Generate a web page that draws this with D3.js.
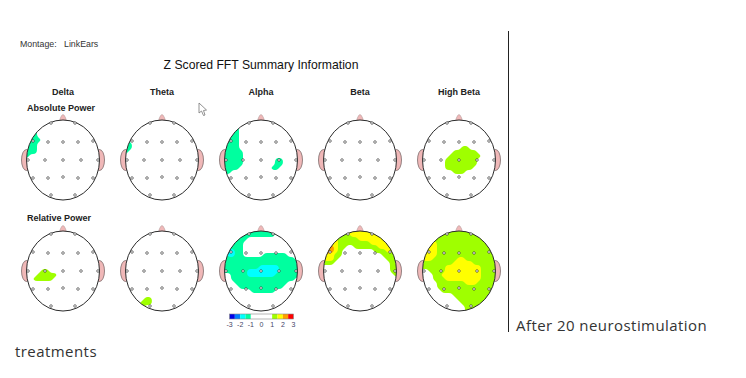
<!DOCTYPE html>
<html><head><meta charset="utf-8">
<script src="https://cdn.jsdelivr.net/npm/d3@7"></script>
<style>html,body{margin:0;padding:0;background:#fff}svg{display:block}text{font-family:"Liberation Sans",Arial,sans-serif}</style>
</head><body><svg id="c" width="746" height="378"></svg>
<script>
const bands = ["Delta","Theta","Alpha","Beta","High Beta"];
const measures = ["Absolute Power","Relative Power"];
const legendTicks = [-3,-2,-1,0,1,2,3];
const legendStops = [-3,-2.5,-2,-1.5,-1,1,1.5,2,2.5,3];
const legendColors = ["#0000e6","#0080ff","#00ffff","#00ff9f","#ffffff","#9fff00","#ffff00","#ff9f00","#ff0000"];
const electrodes = [[-12,-37],[12,-37],[-30,-19],[-15,-18],[0,-18],[15,-18],[30,-19],[-35,0],[-18,0],[0,0],[18,0],[35,0],[-30,18],[-15,18],[0,17],[15,18],[30,18],[-12,35],[12,35]];
const _ = ".....................";
// z-score level read at every grid node of each head map: . none, a/b negative levels, 1-4 positive levels
const deltaAbs = [_,_,_,"aaaa.................","aaaa.................","aaaaa................","aaaa.................","aaaa.................","aaaa.................","aa...................",_,_,_,_,_,_,_,_,_,_,_];
const thetaAbs = [_,_,_,_,_,"aa...................","aaa..................","aaa..................","aa...................",_,_,_,_,_,_,_,_,_,_,_,_];
const alphaAbs = [_,_,"aaaaa................","aaaaa................","aaaaa................","aaaaa................","aaaaa................","aaaaa................","aaaaaa...............","aaaaaa...............","aaaaaa........aa.....","aaaaaa........aa.....","aaaaa........aa......","aaa..................",_,_,_,_,_,_,_];
const betaAbs = [_,_,_,_,_,_,_,_,_,_,_,_,_,_,_,_,_,_,_,_,_];
const highBetaAbs = [_,_,_,_,_,_,_,"...........11........",".........111111......","........11111111.....",".......11111111......",".......11111111......",".......1111111.......",".........111.........",_,_,_,_,_,_,_];
const deltaRel = [_,_,_,_,_,_,_,_,_,_,".....11..............","....11111............","...11111.............",_,_,_,_,_,_,_,_];
const thetaRel = [_,_,_,_,_,_,_,_,_,_,_,_,_,_,_,_,_,"......11.............",".....111.............","....11...............",_];
const alphaRel = ["aaaaaaaaaaaaaa.......","aaaaaaaaaaaaaa.......","aaaaaaa..............","aaaaaa...............","aaaaaa...............","aabbaa...............","aabbaa.....aaaaaa....","aaaaaaaaaaaaaaaaaaa..","aaaaaaaaaaaaaaaaaaaaa","aaaaaaaaaabbbbbaaaaaa","aaaaaaabbbbbbbbaaaaaa","...aaaabbbbbbbaaaaaaa","...aaaaaaaaaaaaaaaa..","....aaaaaaaaaaaaa....",".....aaaaaaaaaaa.....","........aaaaaa.......",_,_,_,_,_];
const betaRel = ["111111122222222222222","111111112222222222222","222221111122222222222","222221111111122222222","2223211..111111222222","234321........1112222","222211..........11111","22221............1111","1111..............111","..................111","..................111","...................11",_,_,_,_,_,_,_,_,_];
const highBetaRel = ["111111111111111111111","111111111111111111111","111111111111111111111","222221111111111111111","222221111111111111111","222221111111111111111","222221111111111111111","222211111122111111111","111111111222221111111","111111122222222211111","...111122222222211111","....11222222222211111","....11122222222211111",".....1111111222111111",".....1111111111111111","......111111111111111",".........111111111111","..........11111111111","...........1111111111","............111111111","............111111111"];
const maps = [[deltaAbs,thetaAbs,alphaAbs,betaAbs,highBetaAbs],[deltaRel,thetaRel,alphaRel,betaRel,highBetaRel]];

const posColors = {1:"#9fff00",2:"#ffff00",3:"#ff9f00",4:"#ff0000"};
const negColors = {1:"#00ff9f",2:"#00ffff",3:"#0080ff"};
const levelOf = {".":0,a:-1,b:-2,c:-3,"1":1,"2":2,"3":3,"4":4};

const svg = d3.select("#c");
const colX = d3.scalePoint().domain(bands).range([63,459]);
const rowY = d3.scalePoint().domain(measures).range([160,271]);
const gridN = 21, headRx = 36.5, headRy = 40;
const gx = d3.scaleLinear().domain([0.5,gridN-0.5]).range([-40,40]);
const gy = d3.scaleLinear().domain([0.5,gridN-0.5]).range([-40,40]);
const ringLine = d3.line().x(d=>gx(d[0])).y(d=>gy(d[1])).curve(d3.curveBasisClosed);
const contourGen = d3.contours().size([gridN,gridN]).smooth(true);

function paint(g, values, colors){
  Object.keys(colors).map(Number).forEach(level=>{
    const c = contourGen.contour(values, level-0.5);
    const d = c.coordinates.flatMap(poly=>poly.map(r=>ringLine(r.slice(0,-1)))).join("");
    if(d) g.append("path").attr("d",d).attr("fill",colors[level]).attr("fill-rule","evenodd");
  });
}

measures.forEach((m,mi)=>bands.forEach((b,bi)=>{
  const g = svg.append("g").attr("transform",`translate(${colX(b)},${rowY(m)})`);
  const id = `clip${mi}${bi}`;
  g.append("clipPath").attr("id",id).append("ellipse").attr("rx",headRx).attr("ry",headRy);
  [-1,1].forEach(s=>{
    g.append("ellipse").attr("cx",s*36.5).attr("cy",0).attr("rx",5).attr("ry",10.5).attr("fill","#f0b8b8").attr("stroke","#6a5a5a").attr("stroke-width",0.7);
  });
  g.append("path").attr("d","M-5,-37.5 Q-3,-39 -2.6,-42 Q0,-49 2.6,-42 Q3,-39 5,-37.5 Z").attr("fill","#f0b8b8").attr("stroke","#a89090").attr("stroke-width",0.5);
  g.append("ellipse").attr("rx",headRx).attr("ry",headRy).attr("fill","#fff");
  const values = maps[mi][bi].flatMap(r=>Array.from(r,ch=>levelOf[ch]));
  const fills = g.append("g").attr("clip-path",`url(#${id})`);
  paint(fills, values.map(v=>Math.max(v,0)), posColors);
  paint(fills, values.map(v=>Math.max(-v,0)), negColors);
  g.append("ellipse").attr("rx",headRx).attr("ry",headRy).attr("fill","none").attr("stroke","#2b2b2b").attr("stroke-width",1);
  g.selectAll("circle.e").data(electrodes).join("circle").attr("class","e")
    .attr("cx",d=>d[0]).attr("cy",d=>d[1]).attr("r",1.3).attr("fill","#fff").attr("stroke","#111").attr("stroke-width",0.55);
}));

svg.append("text").attr("x",20).attr("y",47).attr("font-size",8.8).attr("fill","#333").style("white-space","pre").text("Montage:   LinkEars");
svg.append("text").attr("x",261).attr("y",69).attr("text-anchor","middle").attr("font-size",12.2).attr("fill","#111").text("Z Scored FFT Summary Information");
svg.selectAll("text.band").data(bands).join("text").attr("class","band").attr("x",d=>colX(d)).attr("y",95).attr("text-anchor","middle").attr("font-size",9).attr("font-weight","bold").attr("fill","#222").text(d=>d);
svg.selectAll("text.meas").data(measures).join("text").attr("class","meas").attr("x",27).attr("y",(d,i)=>i?220.5:111).attr("font-size",9).attr("font-weight","bold").attr("fill","#222").text(d=>d);

const lx = d3.scaleLinear().domain([-3,3]).range([229.5,293.5]);
const lg = svg.append("g");
lg.selectAll("rect").data(legendColors).join("rect")
  .attr("x",(d,i)=>lx(legendStops[i])).attr("y",314)
  .attr("width",(d,i)=>lx(legendStops[i+1])-lx(legendStops[i])).attr("height",5).attr("fill",d=>d);
lg.append("rect").attr("x",lx(-3)).attr("y",314).attr("width",lx(3)-lx(-3)).attr("height",5).attr("fill","none").attr("stroke","#888").attr("stroke-width",0.6);
lg.selectAll("text").data(legendTicks).join("text").attr("x",d=>lx(d)).attr("y",327).attr("text-anchor","middle").attr("font-size",7).attr("fill","#446").text(d=>d);

svg.append("path").attr("d","M199,103 L199,113 L201.5,111 L203.5,115.5 L205,115 L203.5,110.5 L206.5,110 Z").attr("fill","#fff").attr("stroke","#777").attr("stroke-width",0.8);

svg.append("line").attr("x1",508.5).attr("x2",508.5).attr("y1",31).attr("y2",332).attr("stroke","#222").attr("stroke-width",1);
svg.append("text").attr("x",516).attr("y",331).attr("font-size",15).style("font-family","'Open Sans'").style("letter-spacing","0.44px").attr("fill","#333").text("After 20 neurostimulation");
svg.append("text").attr("x",15).attr("y",357).attr("font-size",15).style("font-family","'Open Sans'").style("letter-spacing","0.44px").attr("fill","#333").text("treatments");
</script></body></html>
